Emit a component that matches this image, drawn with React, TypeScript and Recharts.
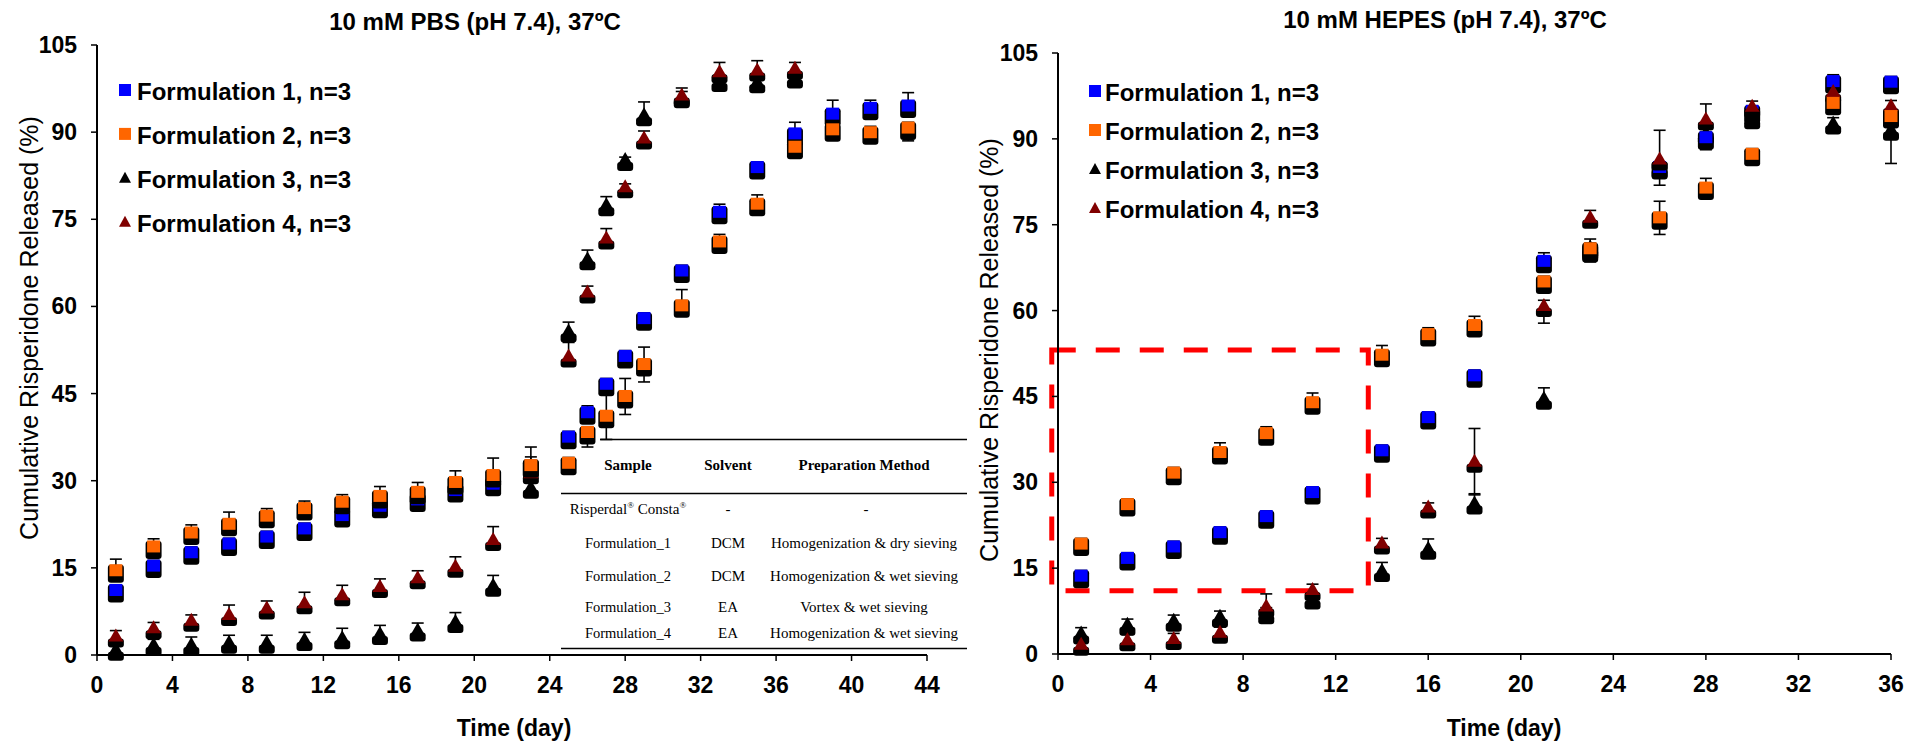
import React from 'react';
import { ScatterChart, Scatter, XAxis, YAxis, ErrorBar, Legend, ReferenceArea } from 'recharts';

// ---------- PBS release data (day, % released) ----------
const pbsDaysF12 = [1, 3, 5, 7, 9, 11, 13, 15, 17, 19, 21, 23, 25, 26, 27, 28, 29, 31, 33, 35, 37, 39, 41, 43];
const pbsDaysF34 = [1, 3, 5, 7, 9, 11, 13, 15, 17, 19, 21, 23, 25, 26, 27, 28, 29, 31, 33, 35, 37];
const pbsF1 = [11.1, 15.3, 17.6, 19.1, 20.3, 21.7, 24.0, 25.6, 26.7, 28.3, 29.4, 32.5, 37.5, 41.7, 46.6, 51.4, 57.9, 66.1, 76.2, 83.9, 89.7, 93.1, 94.1, 94.5];
const pbsF2 = [14.5, 18.6, 21.0, 22.5, 23.9, 25.2, 26.3, 27.3, 28.0, 29.7, 30.9, 32.6, 33.0, 38.3, 41.1, 44.5, 50.0, 60.1, 71.1, 77.6, 87.4, 90.4, 89.9, 90.7];
const pbsF3 = [0.9, 1.7, 1.7, 2.1, 2.1, 2.6, 2.9, 3.6, 4.2, 5.7, 11.9, 28.8, 55.7, 68.1, 77.4, 85.2, 92.9, 96.0, 98.8, 98.6, 99.4];
const pbsF4 = [3.2, 4.6, 5.9, 6.9, 8.0, 8.9, 10.3, 11.7, 13.2, 15.2, 19.8, 31.3, 51.4, 62.4, 71.7, 80.5, 88.9, 96.3, 100.3, 100.6, 100.9];
// [minus, plus] standard deviations
const pbsF1Err = [[1, 1], [1, 1], [1, 1], [1, 1], [1, 1], [1, 1], [1, 1], [1, 1], [1, 1], [1, 1], [1, 1], [1, 3.3], [1, 1], [1, 1.2], [1, 1], [1, 1], [1, 1], [1, 1], [1, 1.4], [1, 1], [1, 2], [1, 2.4], [1, 1.4], [1, 2.3]];
const pbsF2Err = [[1, 2], [1, 1.4], [1, 1.4], [1, 2.1], [1, 1.3], [1, 1.3], [1, 1.3], [1, 1.7], [1, 1.7], [1, 2], [3.2, 3], [1, 1.5], [1, 1], [2.5, 1], [4, 4], [3.1, 3.1], [3, 3], [1.5, 2.8], [1, 1.3], [1, 1.6], [1, 1], [1, 1], [1, 1.1], [2.2, 1]];
const pbsF3Err = [[0.5, 1], [1, 1], [1, 1.4], [1, 1.3], [1, 1.3], [1, 1.3], [1, 1.7], [1, 1.5], [1, 1.3], [1, 1.6], [1, 1.8], [1, 1], [1, 1.6], [1, 1.6], [1, 1.5], [1, 0.5], [1, 2.3], [1, 1], [1, 1], [1, 1], [1, 1]];
const pbsF4Err = [[1, 1], [1, 1], [1, 1], [1, 1.7], [1, 1.3], [1, 1.9], [1, 1.7], [1, 1.4], [1, 1.3], [1, 1.7], [1, 2.3], [1, 1], [1, 2.4], [1, 1.1], [1, 1.7], [1, 0.6], [1, 1.3], [1, 1.3], [1, 1.7], [1, 1.7], [1, 1.1]];

// ---------- HEPES release data ----------
const hepesDays = [1, 3, 5, 7, 9, 11, 14, 16, 18, 21, 23, 26, 28, 30, 33.5, 36];
const hepesF1 = [13.6, 16.7, 18.7, 21.2, 24.0, 28.2, 35.5, 41.3, 48.6, 68.6, 70.5, 85.0, 90.2, 94.8, 100.0, 99.9];
const hepesF2 = [19.2, 26.1, 31.6, 35.2, 38.5, 43.9, 52.2, 55.8, 57.4, 65.0, 70.8, 76.2, 81.4, 87.3, 96.2, 93.9];
const hepesF3 = [3.6, 5.1, 5.8, 6.5, 7.1, 9.7, 14.5, 18.4, 26.3, 44.6, 71.0, 85.0, 91.0, 93.6, 92.7, 91.6];
const hepesF4 = [1.6, 2.4, 2.6, 3.7, 8.3, 11.2, 19.3, 25.6, 33.6, 60.8, 76.2, 86.4, 93.4, 95.6, 98.2, 95.7];
const hepesF1Err = [[1, 1], [1, 1], [1, 1], [1, 1], [1, 1], [1, 1], [1, 1], [1, 1], [1, 1], [1, 1.5], [1, 1], [3.1, 1], [2.1, 1], [1, 1], [1, 1.2], [1, 1]];
const hepesF2Err = [[1, 1], [1, 1], [1, 1], [1, 1.7], [1, 1.2], [1, 1.7], [1, 1.7], [1, 1.2], [1, 1.6], [1, 1], [2, 1], [2.9, 2.9], [1, 1.7], [1, 1], [1, 1], [1, 1]];
const hepesF3Err = [[1, 1], [1, 1], [1, 1], [1, 1], [1, 1], [1, 1], [1, 1.5], [1, 1.7], [1, 1.7], [1, 1.9], [2.5, 1.5], [1, 1], [1, 1], [1, 1], [1.6, 1], [5.9, 1]];
const hepesF4Err = [[1, 1], [1, 1], [1, 1], [1, 1], [1, 2.2], [1, 1], [1, 0.9], [1, 0.8], [5.8, 5.8], [3, 1], [1, 1.3], [1, 5.1], [1, 2.7], [1, 1], [1, 1], [1, 1]];

// ---------- axis ticks ----------
const yTicks = [0, 15, 30, 45, 60, 75, 90, 105];
const pbsXTicks = [0, 4, 8, 12, 16, 20, 24, 28, 32, 36, 40, 44];
const hepesXTicks = [0, 4, 8, 12, 16, 20, 24, 28, 32, 36];

// ---------- legend + sample table ----------
const seriesNames = ['Formulation 1, n=3', 'Formulation 2, n=3', 'Formulation 3, n=3', 'Formulation 4, n=3'];
const seriesColors = ['#0000FF', '#FF6600', '#000000', '#800000'];
const seriesShapes = ['square', 'square', 'triangle', 'triangle'];
const tableHeader = ['Sample', 'Solvent', 'Preparation Method'];
const tableSamples = ['Formulation_1', 'Formulation_2', 'Formulation_3', 'Formulation_4'];
const tableSolvents = ['DCM', 'DCM', 'EA', 'EA'];
const tableMethods = [
  'Homogenization & dry sieving',
  'Homogenization & wet sieving',
  'Vortex & wet sieving',
  'Homogenization & wet sieving',
];

const SANS = 'Liberation Sans, Arial, sans-serif';
const SERIF = 'Liberation Serif, Times New Roman, serif';

const zip = (days: number[], vals: number[], errs: number[][]) =>
  vals.map((v, i) => ({ day: days[i], value: v, err: errs[i] }));

const makeSquare = (fill: string) => (props: any) => {
  const { cx, cy } = props;
  if (cx == null || cy == null) return <g />;
  return (
    <g>
      <rect x={cx - 8} y={cy - 6} width={16} height={18} rx={3} fill="#000" />
      <rect x={cx - 6.5} y={cy - 6.5} width={13} height={12} fill={fill} />
    </g>
  );
};

const makeTriangle = (fill: string) => (props: any) => {
  const { cx, cy } = props;
  if (cx == null || cy == null) return <g />;
  return (
    <g>
      <rect x={cx - 8} y={cy + 2} width={16} height={9} rx={3} fill="#000" />
      <path d={`M${cx},${cy - 8} L${cx + 7.5},${cy + 5} L${cx - 7.5},${cy + 5} Z`} fill={fill} />
    </g>
  );
};

const shapeFor = (i: number) =>
  seriesShapes[i] === 'square' ? makeSquare(seriesColors[i]) : makeTriangle(seriesColors[i]);

const YTick = (props: any) => {
  const { x, y, payload } = props;
  return (
    <text x={x} y={y} dy={8} textAnchor="end" fontFamily={SANS} fontWeight="bold" fontSize={23} fill="#000">
      {payload.value}
    </text>
  );
};

const XTick = (props: any) => {
  const { x, y, payload } = props;
  return (
    <text x={x} y={y} dy={30} textAnchor="middle" fontFamily={SANS} fontWeight="bold" fontSize={23} fill="#000">
      {payload.value}
    </text>
  );
};

const LegendBox = ({ rowGap, textX }: { rowGap: number; textX: number }) => (
  <svg width={260} height={rowGap * 4 + 10} style={{ display: 'block' }}>
    {seriesNames.map((name, i) => {
      const base = 22 + i * rowGap;
      return (
        <g key={name}>
          {seriesShapes[i] === 'square' ? (
            <rect x={0} y={base - 16} width={12} height={12} fill={seriesColors[i]} />
          ) : (
            <path d={`M6,${base - 16} L12,${base - 5} L0,${base - 5} Z`} fill={seriesColors[i]} />
          )}
          <text x={textX} y={base} fontFamily={SANS} fontWeight="bold" fontSize={24} fill="#000">
            {name}
          </text>
        </g>
      );
    })}
  </svg>
);

const errBar = (
  <ErrorBar dataKey="err" direction="y" width={6} stroke="#000" strokeWidth={1.6} isAnimationActive={false} />
);

const seriesList = (days12: number[], days34: number[], vals: number[][], errs: number[][][]) => {
  // drawing order: F3, F1, F4, F2
  const order = [2, 0, 3, 1];
  return order.map((i) => (
    <Scatter
      key={seriesNames[i]}
      name={seriesNames[i]}
      data={zip(i < 2 ? days12 : days34, vals[i], errs[i])}
      dataKey="value"
      fill={seriesColors[i]}
      shape={shapeFor(i)}
      isAnimationActive={false}
    >
      {errBar}
    </Scatter>
  ));
};

const axisProps = {
  tickSize: 6,
  axisLine: { stroke: '#000', strokeWidth: 2 },
  tickLine: { stroke: '#000', strokeWidth: 1.5 },
};

const abs = (style: React.CSSProperties): React.CSSProperties => ({ position: 'absolute', ...style });

// Overlay with titles, axis titles and the sample table
const Annotations = () => {
  const sampleX = 628;
  const solventX = 728;
  const methodX = 864;
  const rowY = [548, 581, 612, 638];
  return (
    <svg width={1913} height={746} style={abs({ left: 0, top: 0 })}>
      <text x={475} y={30} textAnchor="middle" fontFamily={SANS} fontWeight="bold" fontSize={24}>
        10 mM PBS (pH 7.4), 37ºC
      </text>
      <text x={1445} y={28} textAnchor="middle" fontFamily={SANS} fontWeight="bold" fontSize={24}>
        10 mM HEPES (pH 7.4), 37ºC
      </text>
      <text x={514} y={736} textAnchor="middle" fontFamily={SANS} fontWeight="bold" fontSize={23}>
        Time (day)
      </text>
      <text x={1504} y={736} textAnchor="middle" fontFamily={SANS} fontWeight="bold" fontSize={23}>
        Time (day)
      </text>
      <text x={0} y={0} textAnchor="middle" fontFamily={SANS} fontSize={25} transform="translate(38 328) rotate(-90)">
        Cumulative Risperidone Released (%)
      </text>
      <text x={0} y={0} textAnchor="middle" fontFamily={SANS} fontSize={25} transform="translate(998 350) rotate(-90)">
        Cumulative Risperidone Released (%)
      </text>

      {/* sample table */}
      <line x1={600} x2={967} y1={439.5} y2={439.5} stroke="#000" strokeWidth={1.5} />
      <line x1={561} x2={967} y1={493.5} y2={493.5} stroke="#000" strokeWidth={1.5} />
      <line x1={561} x2={967} y1={648.5} y2={648.5} stroke="#000" strokeWidth={1.5} />
      {tableHeader.map((h, i) => (
        <text key={h} x={[sampleX, solventX, methodX][i]} y={470} textAnchor="middle" fontFamily={SERIF} fontWeight="bold" fontSize={15}>
          {h}
        </text>
      ))}
      <text x={sampleX} y={514} textAnchor="middle" fontFamily={SERIF} fontSize={15}>
        Risperdal
        <tspan dy={-6} fontSize={9}>®</tspan>
        <tspan dy={6}> Consta</tspan>
        <tspan dy={-6} fontSize={9}>®</tspan>
      </text>
      <text x={solventX} y={514} textAnchor="middle" fontFamily={SERIF} fontSize={15}>-</text>
      <text x={methodX + 2} y={514} textAnchor="middle" fontFamily={SERIF} fontSize={15}>-</text>
      {tableSamples.map((s, i) => (
        <g key={s + i}>
          <text x={sampleX} y={rowY[i]} textAnchor="middle" fontFamily={SERIF} fontSize={14.5}>{s}</text>
          <text x={solventX} y={rowY[i]} textAnchor="middle" fontFamily={SERIF} fontSize={15}>{tableSolvents[i]}</text>
          <text x={methodX} y={rowY[i]} textAnchor="middle" fontFamily={SERIF} fontSize={15}>{tableMethods[i]}</text>
        </g>
      ))}
    </svg>
  );
};

export default function App() {
  return (
    <div style={abs({ left: 0, top: 0, width: 1913, height: 746, background: '#fff', overflow: 'hidden' })}>
      <Annotations />

      {/* PBS panel */}
      <div style={abs({ left: 0, top: 0 })}>
        <ScatterChart width={960} height={746} margin={{ top: 45, right: 33, bottom: 31, left: 0 }}>
          <XAxis type="number" dataKey="day" domain={[0, 44]} ticks={pbsXTicks} interval={0} height={60} {...axisProps} tick={<XTick />} />
          <YAxis type="number" dataKey="value" domain={[0, 105]} ticks={yTicks} interval={0} width={97} tickMargin={14} {...axisProps} tick={<YTick />} />
          <Legend
            layout="vertical"
            align="center"
            verticalAlign="middle"
            wrapperStyle={{ left: 119, top: 78, width: 260 }}
            content={() => <LegendBox rowGap={43.9} textX={18} />}
          />
          {seriesList(pbsDaysF12, pbsDaysF34, [pbsF1, pbsF2, pbsF3, pbsF4], [pbsF1Err, pbsF2Err, pbsF3Err, pbsF4Err])}
        </ScatterChart>
      </div>

      {/* HEPES panel */}
      <div style={abs({ left: 960, top: 0 })}>
        <ScatterChart width={953} height={746} margin={{ top: 53, right: 22, bottom: 32, left: 0 }}>
          <XAxis type="number" dataKey="day" domain={[0, 36]} ticks={hepesXTicks} interval={0} height={60} {...axisProps} tick={<XTick />} />
          <YAxis type="number" dataKey="value" domain={[0, 105]} ticks={yTicks} interval={0} width={98} tickMargin={14} {...axisProps} tick={<YTick />} />
          <Legend
            layout="vertical"
            align="center"
            verticalAlign="middle"
            wrapperStyle={{ left: 129, top: 79, width: 260 }}
            content={() => <LegendBox rowGap={39} textX={16} />}
          />
          <ReferenceArea
            x1={-0.27}
            x2={13.41}
            y1={11.05}
            y2={53.1}
            ifOverflow="visible"
            fill="none"
            fillOpacity={0}
            stroke="#FF0000"
            strokeWidth={5}
            strokeDasharray="24 20"
          />
          {seriesList(hepesDays, hepesDays, [hepesF1, hepesF2, hepesF3, hepesF4], [hepesF1Err, hepesF2Err, hepesF3Err, hepesF4Err])}
        </ScatterChart>
      </div>
    </div>
  );
}
